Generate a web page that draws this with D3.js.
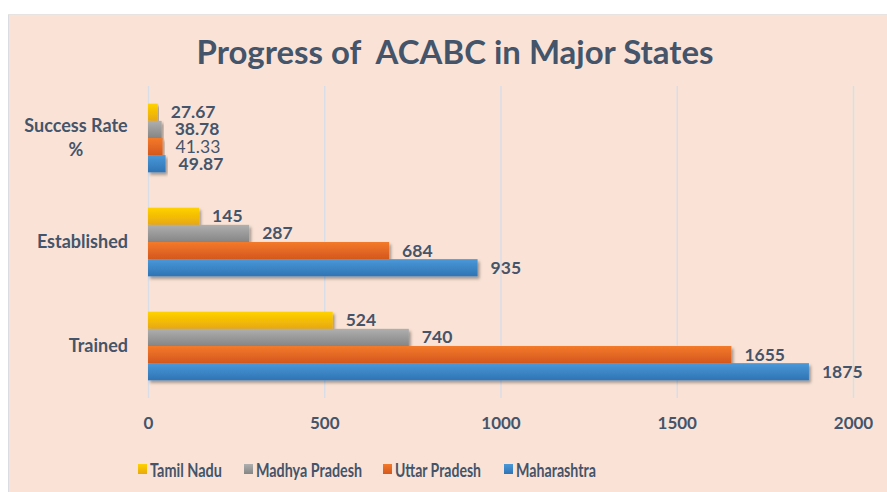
<!DOCTYPE html>
<html><head><meta charset="utf-8">
<script src="https://cdn.jsdelivr.net/npm/d3@7"></script>
<style>
html,body{margin:0;padding:0;background:#fff;}
svg text{font-family:Lato,"Open Sans",sans-serif;}
</style></head>
<body><svg id="c" width="887" height="492"></svg>
<script>
const categories = ["Success Rate %", "Established", "Trained"];
const series = ["Tamil Nadu", "Madhya Pradesh", "Uttar Pradesh", "Maharashtra"];
const tamilNadu = [27.67, 145, 524];
const madhyaPradesh = [38.78, 287, 740];
const uttarPradesh = [41.33, 684, 1655];
const maharashtra = [49.87, 935, 1875];
const xTicks = [0, 500, 1000, 1500, 2000];
const title = "Progress of  ACABC in Major States";

const values = [tamilNadu, madhyaPradesh, uttarPradesh, maharashtra];
const colors = [
  ["#FFD200", "#E8A80C"],
  ["#AFAFAF", "#858585"],
  ["#F47A2A", "#D4581C"],
  ["#4A98D8", "#2F74B5"]
];
const textColor = "#44546A";

const svg = d3.select("#c");
const defs = svg.append("defs");
colors.forEach((c, i) => {
  const g = defs.append("linearGradient").attr("id", "g" + i)
    .attr("x1", 0).attr("y1", 0).attr("x2", 0).attr("y2", 1);
  g.append("stop").attr("offset", "0%").attr("stop-color", c[0]);
  g.append("stop").attr("offset", "100%").attr("stop-color", c[1]);
});
const f = defs.append("filter").attr("id", "sh").attr("x", "-5%").attr("y", "-30%").attr("width", "115%").attr("height", "180%");
f.append("feDropShadow").attr("dx", 2).attr("dy", 2.5).attr("stdDeviation", 1.5)
  .attr("flood-color", "#000").attr("flood-opacity", 0.35);

// background
svg.append("rect").attr("x", 8).attr("y", 14).attr("width", 887 - 8).attr("height", 492 - 14)
  .attr("fill", "#FAE3D6");
svg.append("line").attr("x1", 8.5).attr("x2", 8.5).attr("y1", 14).attr("y2", 492)
  .attr("stroke", "#D9DCE3").attr("stroke-width", 1);
svg.append("line").attr("x1", 8).attr("x2", 887).attr("y1", 14.5).attr("y2", 14.5)
  .attr("stroke", "#E6E3E1").attr("stroke-width", 1);

svg.append("text").attr("x", 455).attr("y", 64).attr("text-anchor", "middle")
  .attr("font-size", 33).attr("font-weight", 700).attr("fill", textColor)
  .attr("textLength", 517).attr("lengthAdjust", "spacingAndGlyphs")
  .style("white-space", "pre").text(title);

const x = d3.scaleLinear().domain([0, 2000]).range([148, 853]);
const y = d3.scaleBand().domain(categories).range([86, 398]).paddingInner(0.34).paddingOuter(0.17);
const yi = d3.scaleBand().domain(series).range([0, y.bandwidth()]);

// grid
svg.append("g").selectAll("line").data(xTicks).join("line")
  .attr("x1", d => x(d) + 0.5).attr("x2", d => x(d) + 0.5)
  .attr("y1", 86).attr("y2", 398)
  .attr("stroke", "#D8DDE8").attr("stroke-width", 1.5);

// x axis labels
const xAxis = d3.axisBottom(x).tickValues(xTicks).tickSize(0).tickPadding(0).tickFormat(d3.format("d"));
const gx = svg.append("g").attr("transform", "translate(0,417)").call(xAxis);
gx.select(".domain").remove();
gx.selectAll("text").attr("font-size", 17).attr("font-weight", 700).attr("fill", textColor)
  .attr("dy", "0.71em").style("font-family", "Lato, 'Open Sans', sans-serif");

// y labels
const yAxis = d3.axisLeft(y).tickSize(0).tickFormat("");
const gy = svg.append("g").attr("transform", "translate(148,0)").call(yAxis);
gy.select(".domain").remove();
categories.forEach(c => {
  const cy = y(c) + y.bandwidth() / 2;
  const t = svg.append("text").attr("text-anchor", "middle").attr("font-size", 18)
    .attr("font-weight", 700).attr("fill", textColor);
  if (c === "Success Rate %") {
    t.append("tspan").attr("x", 76).attr("y", cy - 6).text("Success Rate");
    t.append("tspan").attr("x", 76).attr("y", cy + 18).text("%");
  } else {
    t.attr("x", 128).attr("y", cy + 6).attr("text-anchor", "end").text(c);
  }
});

// bars
series.forEach((s, si) => {
  const g = svg.append("g");
  g.selectAll("rect").data(values[si]).join("rect")
    .attr("x", x(0))
    .attr("y", (d, i) => y(categories[i]) + yi(s))
    .attr("width", d => x(d) - x(0))
    .attr("height", yi.bandwidth())
    .attr("fill", `url(#g${si})`)
    .attr("filter", "url(#sh)");
  g.selectAll("text").data(values[si]).join("text")
    .attr("x", d => x(d) + 13)
    .attr("y", (d, i) => y(categories[i]) + yi(s) + yi.bandwidth() / 2 + 6)
    .attr("font-size", 17.5)
    .attr("font-weight", (d, i) => (si === 2 && i === 0) ? 400 : 700)
    .attr("fill", textColor)
    .text(d => d);
});

// legend
const legendX = [138, 244, 383, 504];
const legendW = [72, 106, 86, 80];
series.forEach((s, si) => {
  const lg = svg.append("g").attr("transform", `translate(${legendX[si]},464)`);
  lg.append("rect").attr("width", 9).attr("height", 10).attr("fill", `url(#g${si})`);
  lg.append("text").attr("x", 12).attr("y", 12.5).attr("font-size", 18.5).attr("font-weight", 700)
    .attr("fill", textColor)
    .attr("textLength", legendW[si]).attr("lengthAdjust", "spacingAndGlyphs")
    .text(s);
});
</script></body></html>
